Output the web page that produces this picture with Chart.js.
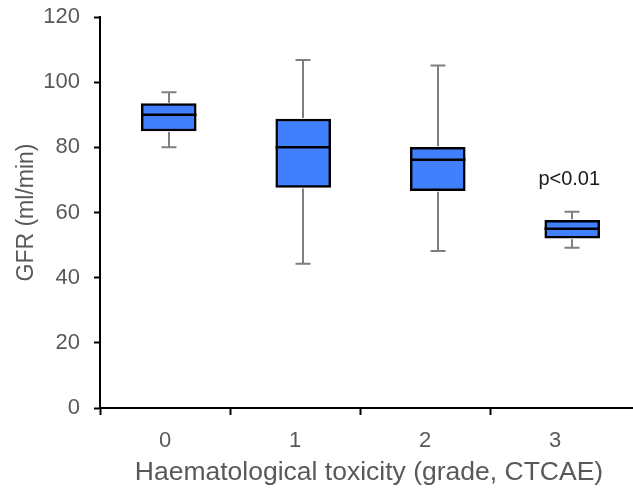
<!DOCTYPE html>
<html>
<head>
<meta charset="utf-8">
<script src="https://cdn.jsdelivr.net/npm/chart.js@4"></script>
<style>
  html, body { margin: 0; padding: 0; background: #fff; }
  #wrap { width: 633px; height: 492px; }
</style>
</head>
<body>
<div id="wrap"><canvas id="myChartGfr"></canvas></div>
<script>
// grados de toxicidad y datos del boxplot (GFR ml/min)
const grades = ['0', '1', '2', '3']
const whiskerLow = [80, 44.3, 48.2, 49.2]
const quartil1 = [85, 67.7, 66.7, 52.1]
const medians = [90, 80, 76.2, 55]
const quartil3 = [93.4, 88.7, 80, 57.6]
const whiskerHigh = [96.9, 106.8, 105.1, 60.2]
const yTicks = [0, 20, 40, 60, 80, 100, 120]
const pLabel = 'p<0.01'
const pLabelAt = { grade: 3, value: 70 }
const xTitle = 'Haematological toxicity (grade, CTCAE)'

const greyText = '#595959'
const boxColor = '#4080ff'
const fontFamily = '"Liberation Sans", Arial, sans-serif'

// bigotes, medianas y texto de p
const boxPlotExtras = {
    id: 'boxPlotExtras',
    afterDatasetsDraw(chart) {
        const {ctx} = chart
        const xb = chart.scales.xb
        const y = chart.scales.y
        const capHalf = 7.5
        const boxHalf = 27.5
        ctx.save()
        ctx.lineCap = 'butt'
        grades.forEach((g, i) => {
            const cx = Math.round(xb.getPixelForValue(i))
            // bigotes
            ctx.strokeStyle = '#7f7f7f'
            ctx.lineWidth = 2
            ctx.beginPath()
            ctx.moveTo(cx, y.getPixelForValue(quartil3[i]) - 1)
            ctx.lineTo(cx, y.getPixelForValue(whiskerHigh[i]))
            ctx.moveTo(cx - capHalf, y.getPixelForValue(whiskerHigh[i]))
            ctx.lineTo(cx + capHalf, y.getPixelForValue(whiskerHigh[i]))
            ctx.moveTo(cx, y.getPixelForValue(quartil1[i]) + 1)
            ctx.lineTo(cx, y.getPixelForValue(whiskerLow[i]))
            ctx.moveTo(cx - capHalf, y.getPixelForValue(whiskerLow[i]))
            ctx.lineTo(cx + capHalf, y.getPixelForValue(whiskerLow[i]))
            ctx.stroke()
            // mediana
            ctx.strokeStyle = '#000'
            ctx.lineWidth = 2.5
            ctx.beginPath()
            ctx.moveTo(cx - boxHalf, y.getPixelForValue(medians[i]))
            ctx.lineTo(cx + boxHalf, y.getPixelForValue(medians[i]))
            ctx.stroke()
        })
        ctx.fillStyle = '#1a1a1a'
        ctx.font = '20px ' + fontFamily
        ctx.textAlign = 'center'
        ctx.textBaseline = 'middle'
        ctx.fillText(pLabel, xb.getPixelForValue(pLabelAt.grade) - 3, y.getPixelForValue(pLabelAt.value))
        ctx.restore()
    },
    afterDraw(chart) {
        const {ctx, chartArea} = chart
        ctx.save()
        // el eje x sigue hasta el borde
        ctx.strokeStyle = '#000'
        ctx.lineWidth = 2
        ctx.beginPath()
        ctx.moveTo(chartArea.right, chartArea.bottom)
        ctx.lineTo(chart.width, chartArea.bottom)
        ctx.stroke()
        // titulo eje x (algo corrido a la derecha como en el original)
        ctx.fillStyle = greyText
        ctx.font = '26.5px ' + fontFamily
        ctx.textAlign = 'center'
        ctx.textBaseline = 'middle'
        ctx.fillText(xTitle, (chartArea.left + chartArea.right) / 2 + 9, chart.height - 19)
        ctx.restore()
    }
}

const renderChartGfr = () => {
    const data = {
        labels: grades,
        datasets: [{
            type: 'bar',
            xAxisID: 'xb',
            data: grades.map((g, i) => ({x: i, y: [quartil1[i], quartil3[i]]})),
            backgroundColor: boxColor,
            borderColor: '#000',
            borderWidth: 2.5,
            borderSkipped: false,
            barThickness: 55
        }]
    }
    const options = {
        responsive: true,
        maintainAspectRatio: false,
        animation: false,
        layout: { padding: { top: 0, right: 13, left: 0, bottom: 0 } },
        plugins: {
            legend: { display: false },
            tooltip: { enabled: false }
        },
        scales: {
            x: {
                type: 'category',
                offset: true,
                afterFit: axis => { axis.height = 84 },
                grid: {
                    offset: true,
                    drawOnChartArea: false,
                    tickLength: 7,
                    tickWidth: 2,
                    color: c => c.tick ? '#000' : 'rgba(0,0,0,0)'
                },
                border: { color: '#000', width: 2 },
                ticks: { color: greyText, padding: 13, font: { size: 22, family: fontFamily } }
            },
            xb: {
                type: 'linear',
                display: false,
                offset: false,
                min: -0.511,
                max: 3.355
            },
            y: {
                min: 0,
                max: 120,
                afterFit: axis => {
                    axis.width = 100
                    axis.paddingTop = 17
                    axis.paddingBottom = 0
                },
                afterBuildTicks: axis => { axis.ticks = yTicks.map(v => ({value: v})) },
                grid: { drawOnChartArea: false, tickLength: 6, tickWidth: 2, color: '#000' },
                border: { color: '#000', width: 2 },
                ticks: { color: greyText, padding: 14, font: { size: 22, family: fontFamily } },
                title: {
                    display: true,
                    text: 'GFR (ml/min)',
                    color: greyText,
                    padding: { top: 13, bottom: 0 },
                    font: { size: 23, family: fontFamily }
                }
            }
        }
    }
    new Chart('myChartGfr', {type: 'bar', data, options, plugins: [boxPlotExtras]})
}

renderChartGfr()
</script>
</body>
</html>
